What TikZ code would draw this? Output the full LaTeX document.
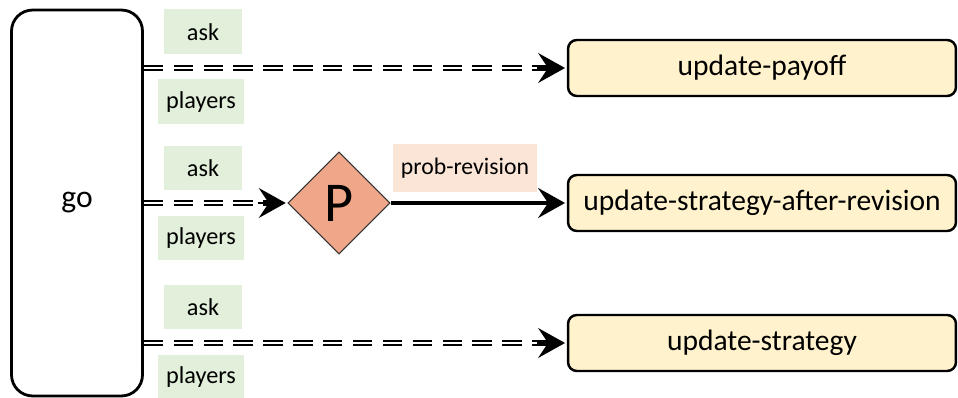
\documentclass[tikz,border=0pt]{standalone}
\usepackage{fontspec}
\setmainfont{Carlito}
\usetikzlibrary{arrows.meta, shapes.geometric}
\definecolor{procfill}{RGB}{255,242,204}
\definecolor{tagfill}{RGB}{226,239,218}
\definecolor{probfill}{RGB}{251,229,214}
\definecolor{pfill}{RGB}{240,166,136}
\begin{document}
\begin{tikzpicture}[x=0.02cm, y=-0.02cm,
    proc/.style={draw, line width=1.4pt, rounded corners=5pt, fill=procfill,
        minimum width=7.76cm, minimum height=1.12cm, font=\fontsize{16.8}{18}\selectfont},
    tag/.style={fill=tagfill, minimum height=0.9cm, font=\fontsize{13.8}{15}\selectfont},
    dbl/.style={double, double distance=1.2pt, line width=0.9pt, dash pattern=on 11pt off 6pt},
    tip/.style={-{Stealth[length=0.54cm, width=0.6cm, inset=0.2cm]}}]
    \useasboundingbox (0, 0) rectangle (958, 398);
    \node[draw, line width=1.6pt, rounded corners=12pt, minimum width=2.62cm,
        minimum height=7.72cm, font=\fontsize{18}{20}\selectfont] (go) at (77, 203) {go};
    \node[proc] (payoff) at (762, 68) {update-payoff};
    \node[proc] (revise) at (762, 203) {update-strategy-after-revision};
    \node[proc] (strategy) at (762, 343) {update-strategy};
    \node[diamond, draw=black!80, line width=0.6pt, fill=pfill, minimum size=2.04cm,
        inner sep=0pt, font=\fontsize{32}{34}\selectfont] (p) at (339, 203) {P};
    \node[fill=probfill, minimum width=2.9cm, minimum height=0.98cm,
        font=\fontsize{13.5}{15}\selectfont] (prob) at (465, 168) {prob-revision};
    \foreach \y [count=\i] in {32, 168, 307} {
        \node[tag, minimum width=1.58cm] (ask\i) at (203, \y) {ask};
    }
    \foreach \y [count=\i] in {102, 238, 377} {
        \node[tag, minimum width=1.74cm] (players\i) at (201, \y) {players};
    }
    \foreach \t in {payoff, p, strategy} {
        \draw[dbl] (go.east |- \t.west) -- ([xshift=-11pt]\t.west);
        \draw[tip, line width=1pt] ([xshift=-17pt]\t.west) -- ([xshift=-1pt]\t.west);
    }
    \draw[tip, line width=2.2pt] (p.east) -- ([xshift=-1pt]revise.west);
\end{tikzpicture}
\end{document}
